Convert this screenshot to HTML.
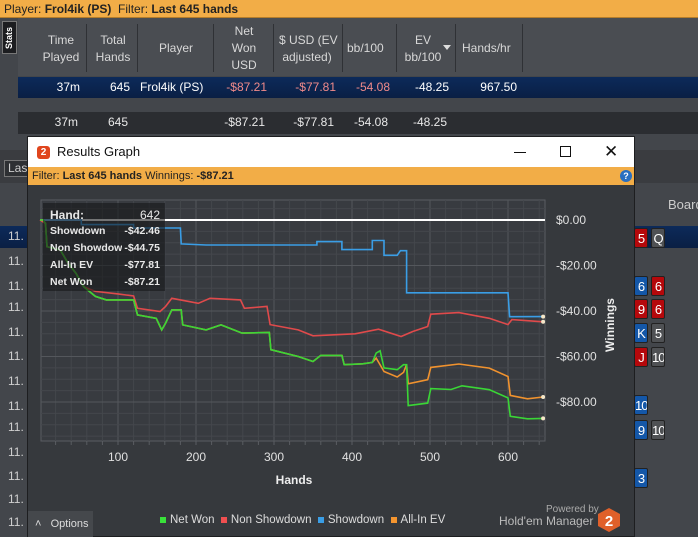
<!DOCTYPE html>
<html><head><meta charset="utf-8">
<style>
*{box-sizing:border-box;margin:0;padding:0}
body{width:698px;height:537px;overflow:hidden;background:#43464b;font-family:"Liberation Sans",sans-serif;position:relative;color:#e8e8e8}
.abs{position:absolute}
.hdr{font-size:12px;color:#d8d8d8;text-align:center;line-height:17px}
.sep{position:absolute;top:24px;width:1px;height:48px;background:#2f3135}
.cell{position:absolute;font-size:12px;text-align:right}
.card{position:absolute;width:14px;height:20px;border-radius:2px;font-size:13px;color:#fff;text-align:center;line-height:20px;border:1px solid #222;overflow:hidden;letter-spacing:-1px}
.r{background:#b5080b}.b{background:#1457a8}.g{background:#4f5154}
.rowl{position:absolute;left:8px;font-size:12px;color:#d0d0d0}
</style></head><body>
<div class="abs" style="left:0;top:0;width:698px;height:18px;background:#f2ad47;font-size:12px;color:#222;line-height:18px;padding-left:4px;border-bottom:1px solid #b57d2a">Player: <b>Frol4ik (PS)</b>&nbsp;&nbsp;Filter: <b>Last 645 hands</b></div>
<div class="abs" style="left:2px;top:21px;width:15px;height:33px;background:#1c1d20;border:1px solid #777;color:#fff;font-size:9px;font-weight:bold;writing-mode:vertical-rl;transform:rotate(180deg);text-align:center;line-height:13px">Stats</div>
<div class="abs" style="left:18px;top:18px;width:680px;height:58px;background:#4a4d52"></div>
<div class="hdr abs" style="left:30px;top:32px;width:62px">Time<br>Played</div>
<div class="hdr abs" style="left:88px;top:32px;width:50px">Total<br>Hands</div>
<div class="hdr abs" style="left:140px;top:40px;width:72px">Player</div>
<div class="hdr abs" style="left:214px;top:23px;width:60px">Net<br>Won<br>USD</div>
<div class="hdr abs" style="left:279px;top:32px;width:66px;text-align:left">$ USD (EV<br>&nbsp;adjusted)</div>
<div class="hdr abs" style="left:347px;top:40px;width:50px;text-align:left">bb/100</div>
<div class="hdr abs" style="left:398px;top:32px;width:50px">EV<br>bb/100</div>
<div class="abs" style="left:443px;top:45px;width:0;height:0;border-left:4px solid transparent;border-right:4px solid transparent;border-top:5px solid #ddd"></div>
<div class="hdr abs" style="left:462px;top:40px;width:60px;text-align:left">Hands/hr</div>
<div class="sep" style="left:86px"></div><div class="sep" style="left:137px"></div><div class="sep" style="left:213px"></div><div class="sep" style="left:273px"></div><div class="sep" style="left:342px"></div><div class="sep" style="left:396px"></div><div class="sep" style="left:455px"></div><div class="sep" style="left:522px"></div>
<div class="abs" style="left:18px;top:77px;width:680px;height:21px;background:linear-gradient(#0c2a5a,#0a1f44)"></div>
<div class="cell" style="left:40px;top:80px;width:40px;color:#fff">37m</div>
<div class="cell" style="left:100px;top:80px;width:30px;color:#fff">645</div>
<div class="cell" style="left:140px;top:80px;width:80px;text-align:left;color:#fff">Frol4ik (PS)</div>
<div class="cell" style="left:200px;top:80px;width:67px;color:#f08a8a">-$87.21</div>
<div class="cell" style="left:280px;top:80px;width:56px;color:#f08a8a">-$77.81</div>
<div class="cell" style="left:340px;top:80px;width:50px;color:#f08a8a">-54.08</div>
<div class="cell" style="left:400px;top:80px;width:49px;color:#fff">-48.25</div>
<div class="cell" style="left:460px;top:80px;width:57px;color:#fff">967.50</div>
<div class="abs" style="left:18px;top:112px;width:680px;height:22px;background:#2b2d31"></div>
<div class="cell" style="left:38px;top:115px;width:40px">37m</div>
<div class="cell" style="left:98px;top:115px;width:30px">645</div>
<div class="cell" style="left:198px;top:115px;width:67px">-$87.21</div>
<div class="cell" style="left:278px;top:115px;width:56px">-$77.81</div>
<div class="cell" style="left:338px;top:115px;width:50px">-54.08</div>
<div class="cell" style="left:398px;top:115px;width:49px">-48.25</div>
<div class="abs" style="left:0;top:150px;width:698px;height:33px;background:#3a3c40"></div>
<div class="abs" style="left:4px;top:160px;width:26px;height:17px;border:1px solid #777;background:#2e3033;font-size:12px;color:#ccc;padding-left:3px;line-height:15px">Las</div>
<div class="abs" style="left:0;top:226px;width:698px;height:22px;background:linear-gradient(#0c2a5a,#0a1f44)"></div>
<div class="abs" style="left:668px;top:197px;font-size:13px;color:#ccc">Board</div>
<div id="leftrows"></div>
<div id="cards"></div>

<div class="abs" style="left:27px;top:136px;width:608px;height:401px;background:#36393d;border:1px solid #1d1e20">
 <div class="abs" style="left:0;top:0;width:606px;height:30px;background:#fff;color:#111;font-size:13px;line-height:30px">
  <div class="abs" style="left:9px;top:9px;width:13px;height:13px;background:#e0451d;border-radius:3px;color:#fff;font-size:10px;font-weight:bold;line-height:13px;text-align:center">2</div>
  <span class="abs" style="left:29px;top:0">Results Graph</span>
  <div class="abs" style="left:486px;top:15px;width:12px;height:1px;background:#111"></div>
  <div class="abs" style="left:532px;top:9px;width:11px;height:11px;border:1px solid #111"></div>
  <div class="abs" style="left:576px;top:0;font-size:17px">✕</div>
 </div>
 <div class="abs" style="left:0;top:30px;width:606px;height:18px;background:#f2ad47;font-size:11px;color:#222;line-height:18px;padding-left:4px">Filter: <b>Last 645 hands</b> Winnings: <b>-$87.21</b>
  <div class="abs" style="left:592px;top:3px;width:12px;height:12px;border-radius:6px;background:#2a6fc0;color:#fff;font-size:9px;font-weight:bold;line-height:12px;text-align:center">?</div>
 </div>
</div>

<svg class="abs" style="left:0;top:0" width="698" height="537" id="chart"></svg>
<div class="abs" style="left:43px;top:203px;width:122px;height:88px;background:rgba(22,23,25,0.6);font-size:10.5px;font-weight:bold;color:#e8e8e8;white-space:nowrap">
 <div class="abs" style="left:7px;top:5px;font-size:12px">Hand:</div><div class="abs" style="right:5px;top:5px;font-size:12px;font-weight:normal">642</div>
 <div class="abs" style="left:7px;top:22px">Showdown</div><div class="abs" style="right:5px;top:22px">-$42.46</div>
 <div class="abs" style="left:7px;top:39px;width:72px;overflow:hidden">Non Showdown</div><div class="abs" style="right:5px;top:39px">-$44.75</div>
 <div class="abs" style="left:7px;top:56px">All-In EV</div><div class="abs" style="right:5px;top:56px">-$77.81</div>
 <div class="abs" style="left:7px;top:73px">Net Won</div><div class="abs" style="right:5px;top:73px">-$87.21</div>
</div>
<div class="abs" style="left:28px;top:511px;width:65px;height:26px;background:#45484c;font-size:11px;color:#ddd;line-height:26px;padding-left:7px">˄&nbsp;&nbsp;&nbsp;Options</div>
<div class="abs" style="left:160px;top:514px;font-size:11.5px;color:#ddd;white-space:nowrap">
 <span><span style="display:inline-block;width:6px;height:6px;background:#39e23a;margin-right:4px"></span>Net Won</span>&nbsp;
 <span><span style="display:inline-block;width:6px;height:6px;background:#f04f50;margin-right:4px"></span>Non Showdown</span>&nbsp;
 <span><span style="display:inline-block;width:6px;height:6px;background:#3a9ee6;margin-right:4px"></span>Showdown</span>&nbsp;
 <span><span style="display:inline-block;width:6px;height:6px;background:#f5952f;margin-right:4px"></span>All-In EV</span>
</div>
<div class="abs" style="left:546px;top:504px;font-size:10px;color:#aaa">Powered by</div>
<div class="abs" style="left:499px;top:514px;font-size:12px;color:#bbb">Hold'em Manager</div>
<svg class="abs" style="left:597px;top:507px" width="24" height="26"><polygon points="12,1 23,7 23,19 12,25 1,19 1,7" fill="#e0602a"/><text x="12" y="19" text-anchor="middle" font-size="15" font-weight="bold" fill="#fff" font-family="Liberation Sans">2</text></svg>

<script>
const hands=[0,53,53,120,120,180,181,213,355,355,387,387,426,426,441,441,458,462,470,470,600,602,645];
const showdown=[0,0,-2,-2,-3.5,-3.5,-10.5,-11,-11,-9.5,-9.5,-13,-13,-9,-9,-15.5,-15.5,-13.5,-13.5,-32,-32,-42.5,-42.46];
const netHands=[0,4,7,9,26,36,46,56,71,85,120,125,149,156,161,169,181,183,213,232,259,294,296,331,350,360,387,390,414,426,431,436,441,458,466,470,472,497,501,527,541,576,600,603,625,645];
const netWon=[0,0,-1.5,-11.7,-13.2,-19,-23.4,-29.3,-33.6,-35.1,-35.1,-41.7,-43.2,-48.3,-45.3,-39.5,-39.5,-46.1,-48.3,-46.1,-49.7,-49.4,-57,-60,-62.2,-59.5,-59.5,-63.6,-63.2,-62.6,-58.5,-57.5,-65,-65.8,-63.6,-63.6,-81.6,-80.5,-74.1,-74.5,-72.9,-74.6,-78.2,-86.3,-87.4,-87.21];
const evHands=[0,4,7,9,26,36,46,56,71,85,120,125,149,156,161,169,181,183,213,232,259,294,296,331,350,360,387,390,414,426,431,441,458,466,470,472,497,501,537,576,600,603,625,645];
const allInEV=[0,0,-1.5,-11.7,-13.2,-19,-23.4,-29.3,-33.6,-35.1,-35.1,-41.7,-43.2,-48.3,-45.3,-39.5,-39.5,-46.1,-48.3,-46.1,-49.7,-49.4,-57,-60,-62.2,-59.5,-59.5,-63.6,-63.2,-62.6,-60.7,-66.6,-69,-67,-63.6,-72,-70.2,-64.8,-63.3,-65.1,-68.8,-77.1,-78.6,-77.81];
const nsHands=[0,7,9,26,36,46,56,71,100,120,125,154,161,169,203,218,257,262,291,295,331,350,404,434,463,478,497,501,537,576,600,605,645];
const nonShowdown=[0,-1.5,-11.7,-13.2,-19,-23.4,-29.3,-31.4,-32.5,-33.4,-38.8,-40.2,-38,-34.4,-36.6,-34.4,-35.1,-38.8,-38,-46,-48.3,-50.9,-50,-48,-51.2,-49,-46.8,-41.4,-40.7,-43.2,-46,-43.8,-44.75];
const xTicks=[100,200,300,400,500,600];
const yTicks=[0,-20,-40,-60,-80];
const yTickLabels=['$0.00','-$20.00','-$40.00','-$60.00','-$80.00'];

const X=h=>40+h*0.78;
const Y=v=>220-v*2.275;
const NS='http://www.w3.org/2000/svg';
const svg=document.getElementById('chart');
function mk(tag,attrs){const e=document.createElementNS(NS,tag);for(const k in attrs)e.setAttribute(k,attrs[k]);svg.appendChild(e);return e;}
const L=41,R=545,T=200,B=441;
const bg=mk('rect',{x:L,y:T,width:R-L,height:B-T,fill:'#383b40',stroke:'#5a5d62'});


for(let h=20;h<=640;h+=20){const g=mk('line',{x1:X(h),x2:X(h),y1:T,y2:B,stroke:h%100===0?'#54575c':'#44474c','stroke-width':1});


mk('line',{x1:X(h),x2:X(h),y1:B,y2:B+4,stroke:'#5a5d62'});}
for(let v=5;v>=-95;v-=5){const g=mk('line',{x1:L,x2:R,y1:Y(v),y2:Y(v),stroke:v%20===0?'#54575c':'#44474c'});

}
xTicks.forEach(t=>{const e=mk('text',{x:X(t),y:461,'text-anchor':'middle','font-size':12,fill:'#e0e0e0','font-family':'Liberation Sans'});e.textContent=t;

});
yTicks.forEach((t,i)=>{const e=mk('text',{x:556,y:Y(t)+4,'font-size':12,fill:'#e0e0e0','font-family':'Liberation Sans'});e.textContent=yTickLabels[i];

});
const xt=mk('text',{x:294,y:484,'text-anchor':'middle','font-size':12,'font-weight':'bold',fill:'#eee','font-family':'Liberation Sans'});xt.textContent='Hands';


const yt=mk('text',{x:0,y:0,transform:'translate(614,325) rotate(-90)','text-anchor':'middle','font-size':12,'font-weight':'bold',fill:'#eee','font-family':'Liberation Sans'});yt.textContent='Winnings';


const zl=mk('line',{x1:L+2,x2:R,y1:Y(0),y2:Y(0),stroke:'#fff','stroke-width':2});


function series(hs,vs,color,name){
 let d=hs.map((h,i)=>X(h).toFixed(1)+','+Y(vs[i]).toFixed(1)).join(' ');
 const p=mk('polyline',{points:d,fill:'none',stroke:color,'stroke-width':1.6});
 
 
 const c=mk('circle',{cx:X(hs[hs.length-1]),cy:Y(vs[vs.length-1]),r:2,fill:'#f4e6c8'});
 
 
}
series(hands,showdown,'#3a9ee6','showdown-line');
series(nsHands,nonShowdown,'#e04a4b','non-showdown-line');
series(evHands,allInEV,'#f0922e','all-in-ev-line');
series(netHands,netWon,'#3ad636','net-won-line');

const lr=document.getElementById('leftrows');
[237,262,287,308,333,357,382,407,428,453,477,500,523].forEach(y=>{const d=document.createElement('div');d.className='rowl';d.style.top=(y-8)+'px';d.textContent='11.';


lr.appendChild(d);});
const cards=[[238,'r','5','g','Q'],[286,'b','6','r','6'],[309,'r','9','r','6'],[333,'b','K','g','5'],[357,'r','J','g','10'],[405,'b','10',null,''],[430,'b','9','g','10'],[478,'b','3',null,'']];
const cc=document.getElementById('cards');
cards.forEach(c=>{const a=document.createElement('div');a.className='card '+c[1];a.style.left='634px';a.style.top=(c[0]-10)+'px';a.textContent=c[2];


cc.appendChild(a);
if(c[3]){const b=document.createElement('div');b.className='card '+c[3];b.style.left='651px';b.style.top=(c[0]-10)+'px';b.textContent=c[4];


cc.appendChild(b);}});
</script>
</body></html>
